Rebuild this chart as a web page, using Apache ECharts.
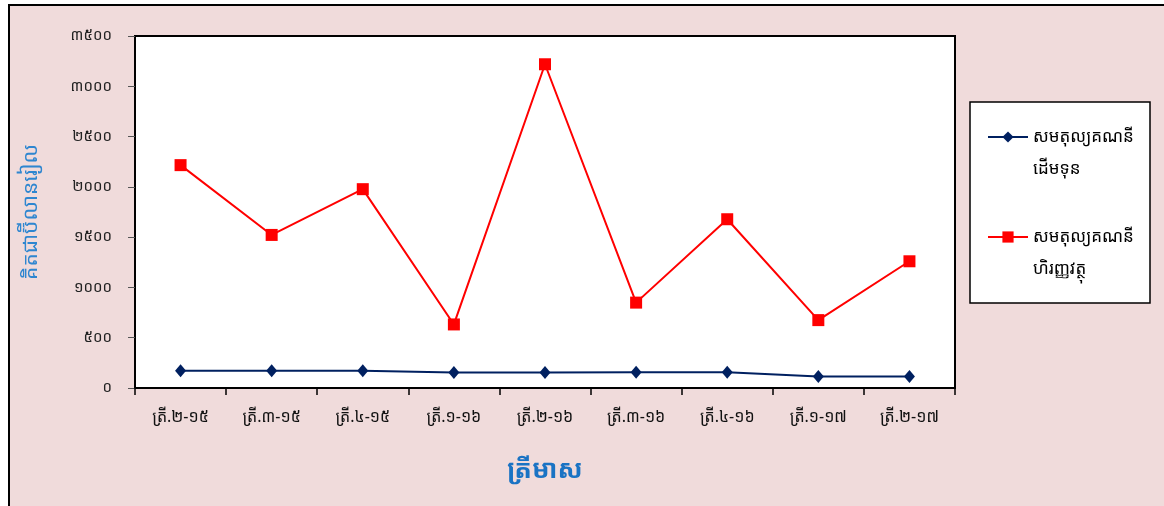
<!DOCTYPE html>
<html>
<head>
<meta charset="utf-8">
<script src="https://cdn.jsdelivr.net/npm/echarts@6/dist/echarts.min.js"></script>
<style>
html,body{margin:0;padding:0;background:#fff;}
#c{width:1164px;height:506px;}
</style>
</head>
<body>
<div id="c"></div>
<script>
const categories = ['ត្រី.២-១៥','ត្រី.៣-១៥','ត្រី.៤-១៥','ត្រី.១-១៦','ត្រី.២-១៦','ត្រី.៣-១៦','ត្រី.៤-១៦','ត្រី.១-១៧','ត្រី.២-១៧'];
const capitalName = 'សមតុល្យគណនីដើមទុន';
const financialName = 'សមតុល្យគណនីហិរញ្ញវត្ថុ';
const capitalValues = [171, 171, 171, 154, 154, 157, 157, 115, 115];
const financialValues = [2216, 1522, 1977, 632, 3219, 849, 1678, 675, 1260];
const yTickValues = [0, 500, 1000, 1500, 2000, 2500, 3000, 3500];
const yTickLabels = ['០', '៥០០', '១០០០', '១៥០០', '២០០០', '២៥០០', '៣០០០', '៣៥០០'];
const legendLines = {};
legendLines[capitalName] = ['សមតុល្យគណនី', 'ដើមទុន'];
legendLines[financialName] = ['សមតុល្យគណនី', 'ហិរញ្ញវត្ថុ'];
const yAxisTitle = 'គិតជាប៊ីលានរៀល';
const xAxisTitle = 'ត្រីមាស';

const FONT = "'Noto Sans Khmer','Khmer OS','Khmer OS System','DejaVu Sans',sans-serif";
const LH = 32;

const chart = echarts.init(document.getElementById('c'));
chart.setOption({
  backgroundColor: '#ffffff',
  animation: false,
  textStyle: { fontFamily: FONT },
  graphic: [
    { type: 'rect', z: -10, shape: { x: 9, y: 5, width: 1200, height: 600 },
      style: { fill: '#f0dbdb', stroke: '#000', lineWidth: 2 } },
    { type: 'rect', z: -5, shape: { x: 970, y: 102, width: 180, height: 201 },
      style: { fill: '#ffffff', stroke: '#000', lineWidth: 1.5 } }
  ],
  grid: {
    left: 135, right: 209, top: 36, bottom: 118,
    show: true, backgroundColor: '#ffffff', borderColor: '#000', borderWidth: 2
  },
  legend: {
    orient: 'vertical', left: 987, top: 89, padding: 0, itemGap: 4,
    itemWidth: 40, itemHeight: 14,
    data: [capitalName, financialName],
    formatter: n => '\n' + legendLines[n].join('\n'),
    textStyle: { fontSize: 17, color: '#000', lineHeight: LH, fontFamily: FONT }
  },
  xAxis: {
    type: 'category', data: categories, boundaryGap: true,
    name: xAxisTitle, nameLocation: 'middle', nameGap: 70,
    nameTextStyle: { color: '#1a73c4', fontSize: 26, fontWeight: 'bold', fontFamily: FONT },
    axisLine: { lineStyle: { color: '#000', width: 2 } },
    axisTick: { show: true, length: 7, lineStyle: { color: '#000', width: 1.5 } },
    axisLabel: { color: '#111', fontSize: 16, margin: 21, fontFamily: FONT },
    splitLine: { show: false }
  },
  yAxis: {
    type: 'value', min: 0, max: 3500, interval: 500,
    name: yAxisTitle, nameLocation: 'middle', nameGap: 93, nameRotate: 90,
    nameTextStyle: { color: '#2e86d0', fontSize: 21, fontFamily: FONT },
    axisLine: { show: true, lineStyle: { color: '#000', width: 2 } },
    axisTick: { show: true, length: 7, lineStyle: { color: '#555', width: 1 } },
    axisLabel: { color: '#222', fontSize: 15, margin: 23, fontFamily: FONT,
      formatter: v => { const i = yTickValues.indexOf(v); return i >= 0 ? yTickLabels[i] : String(v); } },
    splitLine: { show: false }
  },
  series: [
    { name: capitalName, type: 'line', data: capitalValues,
      symbol: 'diamond', symbolSize: [11, 13],
      lineStyle: { color: '#002060', width: 2 },
      itemStyle: { color: '#002060' } },
    { name: financialName, type: 'line', data: financialValues,
      symbol: 'rect', symbolSize: 12,
      lineStyle: { color: '#ff0000', width: 2 },
      itemStyle: { color: '#ff0000' } }
  ]
});
</script>
</body>
</html>
